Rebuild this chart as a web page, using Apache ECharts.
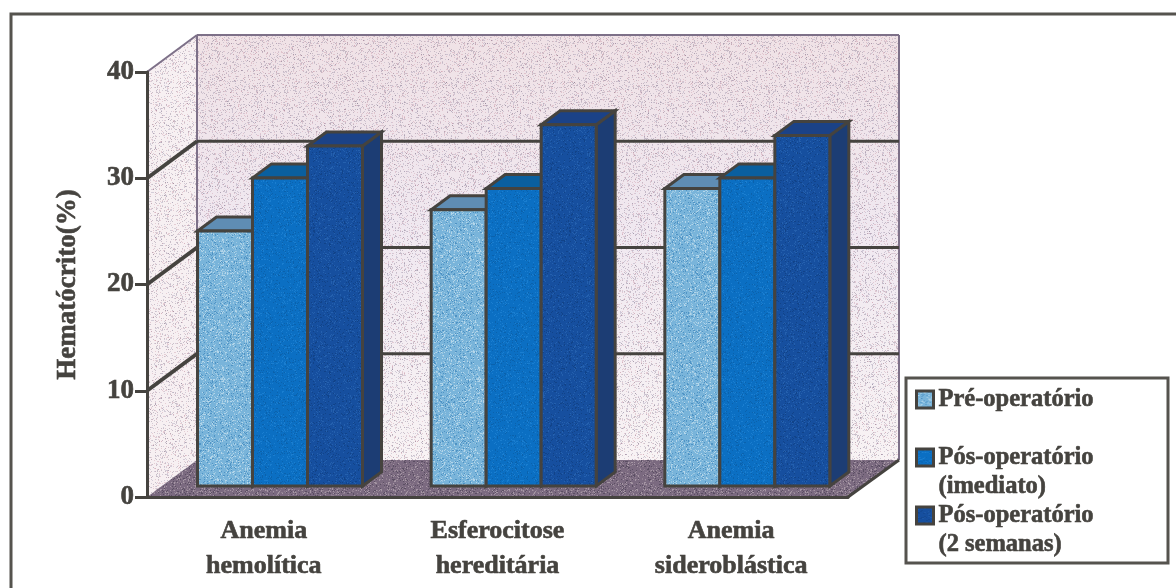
<!DOCTYPE html>
<html>
<head>
<meta charset="utf-8">
<style>html,body{margin:0;padding:0;background:#fff}#chart{width:1176px;height:588px}</style>
<script src="https://cdn.jsdelivr.net/npm/echarts@6/dist/echarts.min.js"></script>
</head>
<body>
<div id="chart"></div>
<script>
// Hematocrit by condition and time point
const categories = ['Anemia\nhemolítica', 'Esferocitose\nhereditária', 'Anemia\nsideroblástica'];
const preOp = [24, 26, 28];
const postOpImmediate = [29, 28, 29];
const postOpTwoWeeks = [32, 34, 33];
const valueTicks = [10, 20, 30, 40];

// Depth of the drawn box and of each column, in pixels
const WALL_DX = 50, WALL_DY = 37;
const BAR_FRONT_DY = 11;
const BAR_DX = 19, BAR_DY = 14;
const BAR_INSET = 50.5, BAR_W = 55;
const INK = '#45433f';
const FONT = '"Liberation Serif", serif';
const heavyText = { textBorderColor: INK, textBorderWidth: 0.6 };

// Deterministic speckle tile used as a print-like fill
function stipple(base, dots, amount, seed) {
  const size = 128, c = document.createElement('canvas');
  c.width = c.height = size;
  const g = c.getContext('2d');
  if (base) { g.fillStyle = base; g.fillRect(0, 0, size, size); }
  let s = seed;
  const next = () => (s = (s * 1664525 + 1013904223) % 4294967296) / 4294967296;
  for (let i = 0; i < size * size * amount; i++) {
    g.fillStyle = dots[Math.floor(next() * dots.length)];
    g.fillRect(Math.floor(next() * size), Math.floor(next() * size), 1, 1);
  }
  return { image: c, repeat: 'repeat' };
}

const wallDots = stipple(null, ['rgba(125,110,135,.38)', 'rgba(190,130,150,.32)', 'rgba(150,140,170,.36)'], 0.24, 17);
const floorFill = stipple('#7b6a80', ['#a596a4', '#5b4f63', '#8f7f8f'], 0.32, 41);
const lightFill = stipple('#79b4da', ['#b4d6ea', '#4f93c4', '#9cc8e2'], 0.3, 73);
const midFill = stipple('#0b6fc3', ['#1a7ed0', '#0a62ad'], 0.2, 97);
const darkFill = stipple('#164f9f', ['#2460ae', '#114389'], 0.2, 131);

const poly = (points, fill, stroke, lineWidth) => ({
  type: 'polygon', shape: { points },
  style: { fill, stroke: stroke || null, lineWidth: lineWidth || 0, lineJoin: 'miter' }
});
const line = (x1, y1, x2, y2, stroke, lineWidth) => ({
  type: 'line', shape: { x1, y1, x2, y2 }, style: { stroke, lineWidth }
});

// Back wall, side wall and floor of the box
function renderBox(params, api) {
  const r = params.coordSys;
  const y0 = api.coord([0, 0])[1], y40 = api.coord([0, 40])[1];
  const x0 = r.x, x1 = r.x + r.width;
  const bx0 = x0 + WALL_DX, bx1 = x1 + WALL_DX + 1;
  const back = [[bx0, y40 - WALL_DY], [bx1, y40 - WALL_DY], [bx1, y0 - WALL_DY], [bx0, y0 - WALL_DY]];
  const side = [[x0, y40], [bx0, y40 - WALL_DY], [bx0, y0 - WALL_DY], [x0, y0]];
  const wallTint = {
    type: 'linear', x: 0, y: 0, x2: 0, y2: 1,
    colorStops: [{ offset: 0, color: '#f0e2e6' }, { offset: 0.45, color: '#f0e8f0' }, { offset: 1, color: '#f8f3f4' }]
  };
  const edge = '#7d7088';
  return {
    type: 'group',
    children: [
      poly(back, wallTint), poly(back, wallDots),
      poly(side, '#f7f0f2'), poly(side, wallDots),
      poly([[x0, y0], [x1, y0], [bx1, y0 - WALL_DY], [bx0, y0 - WALL_DY]], floorFill),
      line(bx0, y40 - WALL_DY, bx1, y40 - WALL_DY, edge, 2),
      line(bx1, y40 - WALL_DY, bx1, y0 - WALL_DY, edge, 2),
      line(bx0, y40 - WALL_DY, bx0, y0 - WALL_DY, edge, 2),
      line(x0, y40, bx0, y40 - WALL_DY, edge, 2),
      line(x1, y0, bx1, y0 - WALL_DY, INK, 3)
    ]
  };
}

// One gridline per tick, running along the side wall and across the back wall
function renderGrid(params, api) {
  const r = params.coordSys, v = api.value(0);
  const y = api.coord([0, v])[1];
  const x0 = r.x, bx0 = x0 + WALL_DX, bx1 = r.x + r.width + WALL_DX + 1;
  return {
    type: 'group',
    children: [
      line(x0, y, bx0, y - WALL_DY, INK, 4),
      line(bx0, y - WALL_DY, bx1, y - WALL_DY, INK, 3)
    ]
  };
}

// Column with front, top and right faces
function renderBar(slot, faces) {
  return function (params, api) {
    const idx = api.value(0), val = api.value(1);
    const band = api.size([1, 0])[0];
    const left = api.coord([idx, 0])[0] - band / 2;
    const base = api.coord([idx, 0])[1] - BAR_FRONT_DY;
    const top = api.coord([idx, val])[1] - BAR_FRONT_DY;
    const x = left + BAR_INSET + slot * BAR_W, w = BAR_W;
    return {
      type: 'group',
      children: [
        poly([[x + w, top], [x + w + BAR_DX, top - BAR_DY], [x + w + BAR_DX, base - BAR_DY], [x + w, base]], faces.side, INK, 3),
        poly([[x, top], [x + w, top], [x + w + BAR_DX, top - BAR_DY], [x + BAR_DX, top - BAR_DY]], faces.top, INK, 3),
        poly([[x, top], [x + w, top], [x + w, base], [x, base]], faces.front, INK, 3)
      ]
    };
  };
}

const barSeries = (name, values, slot, faces) => ({
  name, type: 'custom', coordinateSystem: 'cartesian2d', z: 5,
  itemStyle: { color: faces.front },
  encode: { x: 0, y: 1 },
  data: values.map((v, i) => [i, v]),
  renderItem: renderBar(slot, faces)
});

const chart = echarts.init(document.getElementById('chart'), null, { renderer: 'canvas' });
chart.setOption({
  animation: false,
  backgroundColor: '#fff',
  grid: { left: 147, right: 328, top: 72, bottom: 91, containLabel: false },
  xAxis: {
    type: 'category', data: categories, z: 6,
    axisLine: { lineStyle: { color: INK, width: 3 } },
    axisTick: { length: 11, alignWithLabel: false, lineStyle: { color: INK, width: 3 } },
    axisLabel: { color: INK, fontFamily: FONT, fontWeight: 'bold', fontSize: 26, lineHeight: 35, margin: 17, interval: 0, ...heavyText }
  },
  yAxis: {
    type: 'value', min: 0, max: 40, interval: 10, z: 6,
    name: 'Hematócrito(%)', nameLocation: 'middle', nameGap: 65,
    nameTextStyle: { color: INK, fontFamily: FONT, fontWeight: 'bold', fontSize: 27, ...heavyText },
    splitLine: { show: false },
    axisLine: { show: true, lineStyle: { color: INK, width: 3 } },
    axisTick: { show: true, length: 12, lineStyle: { color: INK, width: 3 } },
    axisLabel: { color: INK, fontFamily: FONT, fontWeight: 'bold', fontSize: 27, margin: 13, ...heavyText }
  },
  legend: {
    orient: 'vertical', left: 915, top: 356, padding: 0, itemGap: -29,
    itemWidth: 17, itemHeight: 17, icon: 'rect', selectedMode: false,
    itemStyle: { borderColor: INK, borderWidth: 3 },
    textStyle: { color: INK, fontFamily: FONT, fontWeight: 'bold', fontSize: 24.5, lineHeight: 29, ...heavyText },
    // A blank first line keeps each marker level with the first line of its entry
    formatter: name => ' \n' + (name.includes(' (') ? name.replace(' (', '\n(') : name + '\n '),
    data: ['Pré-operatório', 'Pós-operatório (imediato)', 'Pós-operatório (2 semanas)']
  },
  graphic: [
    { type: 'rect', silent: true, z: -1, shape: { x: 11, y: 14, width: 1400, height: 800 }, style: { fill: 'none', stroke: '#55534e', lineWidth: 3 } },
    { type: 'rect', silent: true, shape: { x: 906, y: 378, width: 262, height: 185 }, style: { fill: '#fff', stroke: '#55534e', lineWidth: 3 } }
  ],
  series: [
    { type: 'custom', coordinateSystem: 'cartesian2d', silent: true, z: 1, data: [[0, 0]], renderItem: renderBox, clip: false },
    { type: 'custom', coordinateSystem: 'cartesian2d', silent: true, z: 2, data: valueTicks.slice(0, 3).map(v => [v]), encode: { y: 0 }, renderItem: renderGrid, clip: false },
    barSeries('Pré-operatório', preOp, 0, { front: lightFill, top: '#5f8db4', side: '#4d7da6' }),
    barSeries('Pós-operatório (imediato)', postOpImmediate, 1, { front: midFill, top: '#0a5f9f', side: '#0a5390' }),
    barSeries('Pós-operatório (2 semanas)', postOpTwoWeeks, 2, { front: darkFill, top: '#1b4287', side: '#1c3d74' })
  ]
});
</script>
</body>
</html>
